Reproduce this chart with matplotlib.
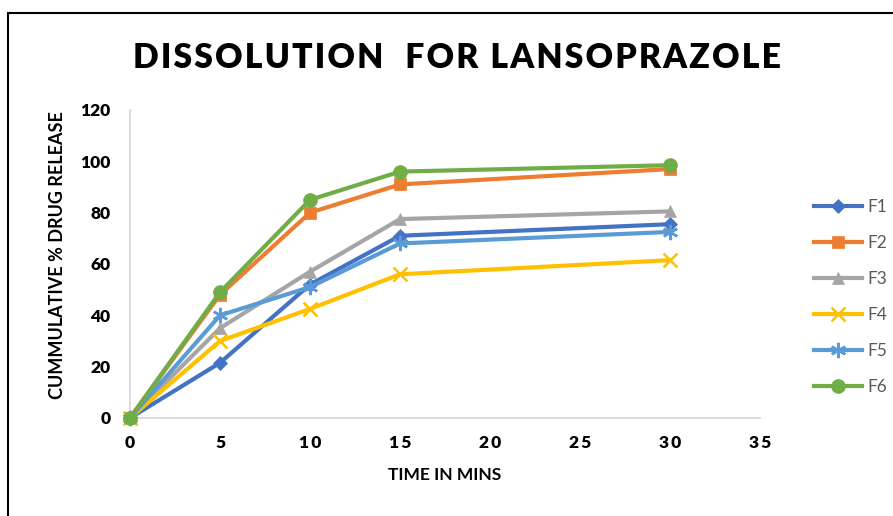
import matplotlib
matplotlib.use("Agg")
import matplotlib.pyplot as plt
from matplotlib.patches import Rectangle
from matplotlib.ticker import FuncFormatter

# data
time_mins = [0, 5, 10, 15, 30]
series_names = ["F1", "F2", "F3", "F4", "F5", "F6"]
f1 = [0, 21.5, 52, 71, 75.5]
f2 = [0, 48, 80, 91, 97]
f3 = [0, 35, 57, 77.5, 80.5]
f4 = [0, 30, 42.5, 56, 61.5]
f5 = [0, 40, 51, 68, 72.5]
f6 = [0, 49, 85, 96, 98.5]
x_ticks = [0, 5, 10, 15, 20, 25, 30, 35]
y_ticks = [0, 20, 40, 60, 80, 100, 120]
title = "DISSOLUTION  FOR LANSOPRAZOLE"

colors = ["#4472C4", "#ED7D31", "#A5A5A5", "#FFC000", "#5B9BD5", "#70AD47"]
markers = ["D", "s", "^", "x", (6, 2, 0), "o"]
msizes = [7, 9, 9, 10, 11, 10]

plt.rcParams["font.family"] = ["Lato", "DejaVu Sans"]

W, H = 893, 516
fig = plt.figure(figsize=(W / 100, H / 100), dpi=100)
ax = fig.add_axes([130 / W, 1 - 418 / H, 630 / W, 308 / H])

for name, vals, c, m, ms in zip(series_names, [f1, f2, f3, f4, f5, f6], colors, markers, msizes):
    ax.plot(time_mins, vals, color=c, lw=3, marker=m, markersize=ms,
            markeredgewidth=1.8 if m in ("x", (6, 2, 0)) else 0.5,
            markeredgecolor=c, label=name, clip_on=False, zorder=3)

ax.set_xlim(0, 35)
ax.set_ylim(0, 120)
ax.set_xticks(x_ticks)
ax.set_yticks(y_ticks)
ax.xaxis.set_major_formatter(FuncFormatter(lambda v, p: "\u2009".join(str(int(v)))))
for s in ("top", "right"):
    ax.spines[s].set_visible(False)
for s in ("left", "bottom"):
    ax.spines[s].set_color("#d9d9d9")
    ax.spines[s].set_linewidth(1.3)
ax.tick_params(length=0, labelsize=12.5, pad=12)
for lab in ax.get_xticklabels() + ax.get_yticklabels():
    lab.set_fontweight("heavy")
ax.tick_params(axis="y", pad=14)

ax.set_xlabel("TIME IN MINS", fontsize=12.5, fontweight="bold", labelpad=12)
fig.text(58 / W, 1 - 255 / H, "CUMMULATIVE % DRUG RELEASE", rotation=90,
         fontsize=13, fontweight="bold", ha="center", va="center")

fig.text(457 / W, 1 - 58 / H, "\u200a".join(title),
         fontsize=24.3, fontweight="heavy", ha="center", va="center")

leg = ax.legend(loc="center left", bbox_to_anchor=(798 / W, 1 - 297 / H),
                bbox_transform=fig.transFigure, frameon=False, fontsize=12.5,
                labelspacing=1.15, handlelength=2.8, handletextpad=0.3)
for t in leg.get_texts():
    t.set_color("#595959")

fig.patches.append(Rectangle((8 / W, -0.05), 1.1, 1 - 13 / H + 0.05, transform=fig.transFigure,
                             fill=False, edgecolor="black", lw=1.5))

fig.savefig("out.png", dpi=100)
